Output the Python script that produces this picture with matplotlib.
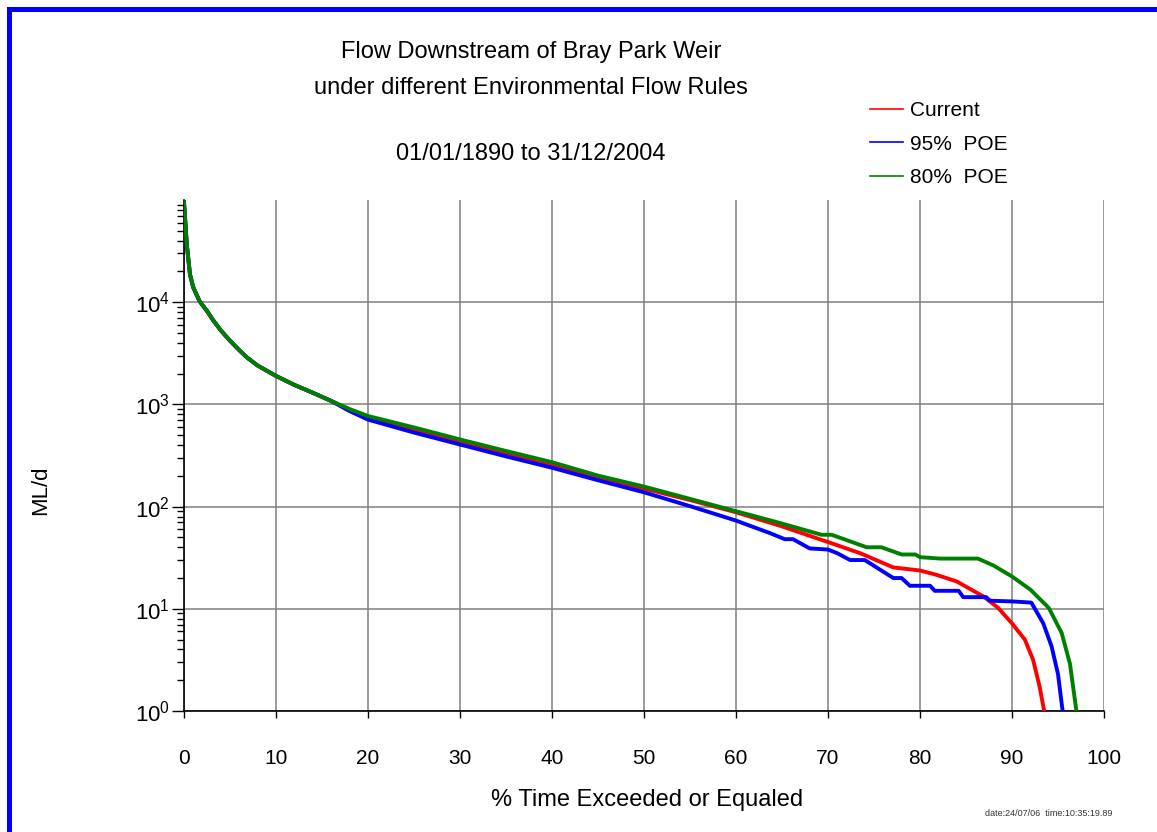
#!/usr/bin/env python3
"""
Flow duration curves downstream of Bray Park Weir under three
environmental flow rules (log scale).
"""

import matplotlib
matplotlib.use('Agg')
import matplotlib.pyplot as plt
from matplotlib.lines import Line2D
from matplotlib.patches import Rectangle
from matplotlib.ticker import LogLocator, NullFormatter

plt.rcParams['font.family'] = ['Liberation Sans', 'DejaVu Sans']
plt.rcParams['mathtext.default'] = 'regular'

# --- data (percent of time exceeded, ML/d) ---
# all three rules share the same curve at the high-flow end
common_pct = [0, 0.3, 0.65, 1.0, 1.7, 2.5, 3.2, 4, 5, 6, 6.8, 8, 10, 12, 14, 16]
common_flow = [95000, 37000, 18700, 14000, 10200, 8200, 6600, 5300, 4200, 3400,
               2900, 2400, 1900, 1550, 1300, 1080]

current_pct = [18, 20, 25, 30, 35, 40, 45, 50, 55, 60, 65, 70, 73.5, 77.1, 80, 81.8,
               84, 86.9, 88.5, 90, 91.4, 92.3, 93, 93.5]
current_flow = [890, 750, 570, 421, 325, 252, 192, 150, 116, 88, 64, 45, 35, 25.4,
                23.7, 21.5, 18.5, 13.2, 10.2, 7.2, 5.0, 3.16, 1.73, 1.0]

poe95_pct = [18, 20, 25, 30, 35, 40, 45, 50, 55, 60, 61.5, 63.7, 65.3, 66.2, 68, 70,
             71, 72.4, 74, 77.1, 78, 78.9, 81.1, 81.6, 84.2, 84.7, 87.2, 87.6, 90.1,
             92.1, 93.4, 94.3, 95, 95.5]
poe95_flow = [860, 710, 530, 405, 310, 240, 181, 138, 101, 73, 65, 55, 48, 48, 39,
              38, 35, 30, 30, 20, 20, 16.8, 16.8, 15, 15, 13, 13, 12, 11.8,
              11.5, 7.2, 4.3, 2.3, 1.0]

poe80_pct = [18, 20, 25, 30, 35, 40, 45, 50, 55, 60, 61.5, 64.8, 69.3, 70.4, 74.2,
             75.8, 78, 79.5, 80, 82.2, 86.3, 88, 90, 92, 94, 95.4, 96.3, 97]
poe80_flow = [900, 770, 595, 454, 350, 272, 201, 157, 119, 90, 83, 69, 53, 53, 40,
              40, 34, 34, 32, 31, 31, 26.5, 20.7, 15.4, 10.2, 5.8, 2.9, 1.0]

series = [
    ("Current", current_pct, current_flow, "#FF0000"),
    ("95%  POE", poe95_pct, poe95_flow, "#0000FF"),
    ("80%  POE", poe80_pct, poe80_flow, "#008000"),
]

W, H = 1157, 832
fig = plt.figure(figsize=(W / 100, H / 100), dpi=100)
fig.set_facecolor('white')
ax = fig.add_axes([184 / W, 1 - 711 / H, (1104 - 184) / W, (711 - 200) / H])

for name, px, fy, color in series:
    ax.plot(common_pct + px, common_flow + fy, color=color, lw=2.8,
            solid_joinstyle='round', zorder=3)

ax.set_yscale('log')
ax.set_xlim(0, 100)
ax.set_ylim(1, 1e5)
ax.set_xticks(range(0, 101, 10))
ax.set_yticks([1, 10, 100, 1000, 10000])
ax.yaxis.set_minor_locator(LogLocator(base=10, subs=range(2, 10)))
ax.yaxis.set_minor_formatter(NullFormatter())

ax.grid(True, which='major', color='#808080', lw=1.1)
ax.set_axisbelow(True)
for side in ('top', 'right'):
    ax.spines[side].set_visible(False)
for side in ('left', 'bottom'):
    ax.spines[side].set_color('black')
    ax.spines[side].set_linewidth(1.2)

ax.tick_params(axis='x', which='major', direction='out', length=5, width=1,
               labelsize=15, pad=22)
ax.tick_params(axis='y', which='major', direction='out', length=9, width=1,
               labelsize=16, pad=1)
ax.tick_params(axis='y', which='minor', direction='out', length=5, width=1)

# titles and axis labels
fig.text(531 / W, 1 - 52 / H, "Flow Downstream of Bray Park Weir",
         ha='center', va='center', fontsize=17)
fig.text(531 / W, 1 - 88 / H, "under different Environmental Flow Rules",
         ha='center', va='center', fontsize=17)
fig.text(531 / W, 1 - 154 / H, "01/01/1890 to 31/12/2004",
         ha='center', va='center', fontsize=17)
fig.text(647 / W, 1 - 800 / H, "% Time Exceeded or Equaled",
         ha='center', va='center', fontsize=17)
fig.text(41 / W, 1 - 490 / H, "ML/d", ha='center', va='center',
         rotation=90, fontsize=16)
fig.text(1112 / W, 1 - 813 / H, "date:24/07/06  time:10:35:19.89",
         ha='right', va='center', fontsize=6.5, color='#333333')

# legend without frame, thin sample lines
handles = [Line2D([], [], color=c, lw=1.2) for _, _, _, c in series]
ax.legend(handles, [s[0] for s in series], loc='upper left',
          bbox_to_anchor=(870 / W, 1 - 101 / H), bbox_transform=fig.transFigure,
          frameon=False, fontsize=15, handlelength=1.6, handletextpad=0.3,
          labelspacing=0.7, borderpad=0, borderaxespad=0)

# blue page border on the top and left
fig.add_artist(Rectangle((7 / W, 0), 5 / W, 1 - 7 / H, transform=fig.transFigure,
                         color='#0000FF', lw=0))
fig.add_artist(Rectangle((7 / W, 1 - 12 / H), 1, 5 / H, transform=fig.transFigure,
                         color='#0000FF', lw=0))

fig.savefig('out.png', dpi=100, facecolor='white')
